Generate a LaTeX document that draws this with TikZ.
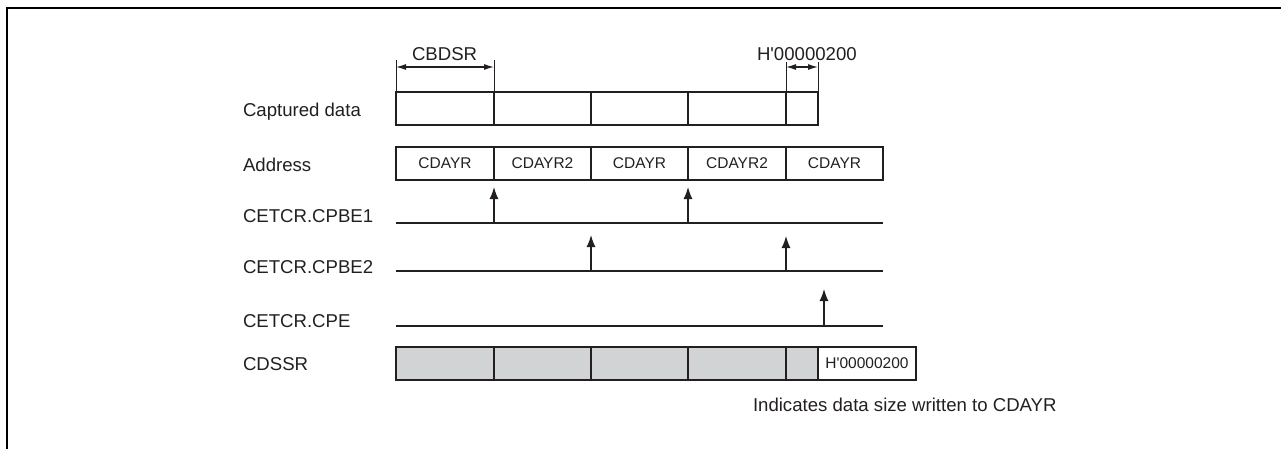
\documentclass[tikz,border=0pt]{standalone}
\usepackage{fontspec}
\setmainfont{Liberation Sans}
\usetikzlibrary{arrows.meta}
\definecolor{boxgray}{RGB}{209,211,212}
\definecolor{ink}{RGB}{35,31,32}
\newcommand{\hq}{H\textquotesingle 00000200}
\begin{document}
\begin{tikzpicture}[x=1pt,y=-1pt,
  lbl/.style={anchor=base west, inner sep=0pt, outer sep=0pt, text=ink, font=\fontsize{18.6}{22}\selectfont},
  cell/.style={draw=ink, line width=2.3pt, minimum height=33pt, inner sep=0pt, outer sep=0pt, anchor=north west, text=ink, font=\fontsize{15.5}{18}\selectfont},
  graycell/.style={minimum height=33pt, inner sep=0pt, outer sep=0pt, anchor=north west, fill=boxgray},
  border/.style={draw=ink, line width=2.3pt},
  sig/.style={draw=ink, line width=2.3pt},
  trig/.style={draw=ink, line width=1.3pt, -{Latex[length=12pt,width=9pt]}},
  dim/.style={draw=ink, line width=1pt},
  dimarr/.style={draw=ink, line width=1.2pt, {Latex[length=10pt,width=6pt]}-{Latex[length=10pt,width=6pt]}}
]
\useasboundingbox (0,0) rectangle (1281,448);
% frame (partly cropped)
\draw[draw=black, line width=2.5pt] (7,449) -- (7,8) -- (1282,8);

% row labels
\node[lbl] (lcap) at (243,116) {Captured data};
\node[lbl] (ladr) at (243,171) {Address};
\node[lbl] (lbe1) at (243,222) {CETCR.CPBE1};
\node[lbl] (lbe2) at (243,273) {CETCR.CPBE2};
\node[lbl] (lcpe) at (243,327) {CETCR.CPE};
\node[lbl] (lcds) at (243,370) {CDSSR};

% captured data row
\node[cell, minimum width=98pt] (c1) at (396,92) {};
\node[cell, minimum width=97pt] (c2) at (494,92) {};
\node[cell, minimum width=97pt] (c3) at (591,92) {};
\node[cell, minimum width=98pt] (c4) at (688,92) {};
\node[cell, minimum width=32pt] (c5) at (786,92) {};

% address row
\node[cell, minimum width=98pt] (a1) at (396,147) {CDAYR};
\node[cell, minimum width=97pt] (a2) at (494,147) {CDAYR2};
\node[cell, minimum width=97pt] (a3) at (591,147) {CDAYR};
\node[cell, minimum width=98pt] (a4) at (688,147) {CDAYR2};
\node[cell, minimum width=97pt] (a5) at (786,147) {CDAYR};

% dimension CBDSR
\coordinate (d1a) at (396,60);
\coordinate (d1b) at (494,60);
\draw[dim] (c1.north west) -- (d1a);
\draw[dim] (c1.north east) -- (d1b);
\coordinate (d1l) at (396,67);
\coordinate (d1r) at (494,67);
\draw[dimarr] (d1l) -- (d1r);
\node[lbl] (tcbdsr) at (412,60) {CBDSR};

% dimension H'00000200
\coordinate (d2a) at (786,62);
\coordinate (d2b) at (818,62);
\draw[dim] (c5.north west) -- (d2a);
\draw[dim] (c5.north east) -- (d2b);
\coordinate (d2l) at (786,67);
\coordinate (d2r) at (818,67);
\draw[dimarr] (d2l) -- (d2r);
\node[lbl] (th) at (757,60) {\hq};

% signal lines
\coordinate (s1a) at (396,223); \coordinate (s1b) at (883,223);
\coordinate (s2a) at (396,271); \coordinate (s2b) at (883,271);
\coordinate (s3a) at (396,326); \coordinate (s3b) at (883,326);
\draw[sig] (s1a) -- (s1b);
\draw[sig] (s2a) -- (s2b);
\draw[sig] (s3a) -- (s3b);

% trigger arrows
\coordinate (t1a) at (494,223); \coordinate (t1b) at (494,187);
\coordinate (t2a) at (688,223); \coordinate (t2b) at (688,187);
\coordinate (t3a) at (591,271); \coordinate (t3b) at (591,235);
\coordinate (t4a) at (786,271); \coordinate (t4b) at (786,236);
\coordinate (t5a) at (824,326); \coordinate (t5b) at (824,289);
\draw[trig] (t1a) -- (t1b);
\draw[trig] (t2a) -- (t2b);
\draw[trig] (t3a) -- (t3b);
\draw[trig] (t4a) -- (t4b);
\draw[trig] (t5a) -- (t5b);

% CDSSR row: fills first, borders afterwards
\node[graycell, minimum width=98pt] (g1) at (396,347) {};
\node[graycell, minimum width=97pt] (g2) at (494,347) {};
\node[graycell, minimum width=97pt] (g3) at (591,347) {};
\node[graycell, minimum width=98pt] (g4) at (688,347) {};
\node[graycell, minimum width=32pt] (g5) at (786,347) {};
\node[cell, minimum width=98pt] (g6) at (818,347) {\hq};
\foreach \g in {g1,g2,g3,g4,g5}{
  \draw[border] (\g.north west) rectangle (\g.south east);
}

\node[lbl] (note) at (753,411) {Indicates data size written to CDAYR};
\end{tikzpicture}
\end{document}
